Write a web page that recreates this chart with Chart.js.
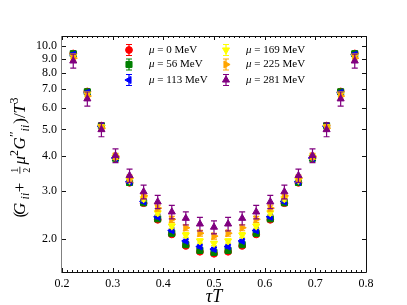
<!DOCTYPE html>
<html>
<head>
<meta charset="utf-8">
<script src="https://cdn.jsdelivr.net/npm/chart.js@4/dist/chart.umd.min.js"></script>
<style>
  html, body { margin: 0; padding: 0; background: #fff; }
  #wrap { position: relative; width: 407px; height: 305px; }
</style>
</head>
<body>
<div id="wrap"><canvas id="chart" width="407" height="305"></canvas></div>
<script>
// tau*T values (N_tau = 36)
const tauT = [0.2222, 0.25, 0.2778, 0.3056, 0.3333, 0.3611, 0.3889, 0.4167, 0.4444, 0.4722, 0.5,
  0.5278, 0.5556, 0.5833, 0.6111, 0.6389, 0.6667, 0.6944, 0.7222, 0.75, 0.7778];

const muValues = [0, 56, 113, 169, 225, 281];

const g0 = [9.42, 6.86, 5.16, 3.93, 3.20, 2.70, 2.35, 2.08, 1.89, 1.80, 1.77,
  1.80, 1.89, 2.08, 2.35, 2.70, 3.20, 3.93, 5.16, 6.86, 9.42];
const g56 = [9.40, 6.84, 5.15, 3.93, 3.21, 2.71, 2.37, 2.10, 1.91, 1.82, 1.79,
  1.82, 1.91, 2.10, 2.37, 2.71, 3.21, 3.93, 5.15, 6.84, 9.40];
const g113 = [9.33, 6.79, 5.13, 3.94, 3.23, 2.74, 2.41, 2.15, 1.97, 1.88, 1.84,
  1.88, 1.97, 2.15, 2.41, 2.74, 3.23, 3.94, 5.13, 6.79, 9.33];
const g169 = [9.21, 6.71, 5.10, 3.96, 3.27, 2.80, 2.49, 2.23, 2.07, 1.97, 1.93,
  1.97, 2.07, 2.23, 2.49, 2.80, 3.27, 3.96, 5.10, 6.71, 9.21];
const g225 = [9.06, 6.60, 5.05, 3.99, 3.33, 2.87, 2.59, 2.36, 2.20, 2.10, 2.05,
  2.10, 2.20, 2.36, 2.59, 2.87, 3.33, 3.99, 5.05, 6.60, 9.06];
const g281 = [8.85, 6.45, 4.99, 4.02, 3.40, 2.97, 2.73, 2.51, 2.38, 2.27, 2.21,
  2.27, 2.38, 2.51, 2.73, 2.97, 3.40, 4.02, 4.99, 6.45, 8.85];

// half-widths of the error bars
const e0 = [0.08, 0.055, 0.04, 0.032, 0.026, 0.022, 0.019, 0.017, 0.015, 0.014, 0.014,
  0.014, 0.015, 0.017, 0.019, 0.022, 0.026, 0.032, 0.04, 0.055, 0.08];
const e56 = [0.10, 0.07, 0.05, 0.04, 0.033, 0.028, 0.025, 0.022, 0.02, 0.019, 0.018,
  0.019, 0.02, 0.022, 0.025, 0.028, 0.033, 0.04, 0.05, 0.07, 0.10];
const e113 = [0.13, 0.095, 0.07, 0.055, 0.045, 0.04, 0.035, 0.03, 0.028, 0.026, 0.026,
  0.026, 0.028, 0.03, 0.035, 0.04, 0.045, 0.055, 0.07, 0.095, 0.13];
const e169 = [0.17, 0.12, 0.09, 0.07, 0.06, 0.05, 0.045, 0.04, 0.04, 0.035, 0.035,
  0.035, 0.04, 0.04, 0.045, 0.05, 0.06, 0.07, 0.09, 0.12, 0.17];
const e225 = [0.22, 0.16, 0.12, 0.10, 0.08, 0.07, 0.065, 0.06, 0.055, 0.05, 0.05,
  0.05, 0.055, 0.06, 0.065, 0.07, 0.08, 0.10, 0.12, 0.16, 0.22];
const e281 = [0.52, 0.38, 0.29, 0.23, 0.19, 0.17, 0.15, 0.14, 0.13, 0.13, 0.12,
  0.13, 0.13, 0.14, 0.15, 0.17, 0.19, 0.23, 0.29, 0.38, 0.52];

const xTicks = [0.2, 0.3, 0.4, 0.5, 0.6, 0.7, 0.8];
const yTicks = [2, 3, 4, 5, 6, 7, 8, 9, 10];

const SERIF = '"Liberation Serif", "DejaVu Serif", serif';

const SERIES = [
  { vals: g0, err: e0, color: '#ff0000', style: 'circle', rot: 0, r: 3.4 },
  { vals: g56, err: e56, color: '#008000', style: 'rect', rot: 0, r: 4.3 },
  { vals: g113, err: e113, color: '#0000ff', style: 'triangle', rot: -90, r: 4.1 },
  { vals: g169, err: e169, color: '#ffff00', style: 'triangle', rot: 180, r: 4.1 },
  { vals: g225, err: e225, color: '#ffa500', style: 'triangle', rot: 90, r: 4.1 },
  { vals: g281, err: e281, color: '#800080', style: 'triangle', rot: 0, r: 4.1 },
];

function drawMarker(ctx, s, x, y) {
  ctx.fillStyle = s.color;
  ctx.strokeStyle = s.color;
  ctx.lineWidth = 1;
  Chart.helpers.drawPoint(ctx, { pointStyle: s.style, rotation: s.rot, radius: s.r, borderWidth: 1 }, x, y);
}

function errBar(ctx, x, lo, hi) {
  ctx.beginPath();
  ctx.moveTo(x, lo); ctx.lineTo(x, hi);
  ctx.moveTo(x - 3, lo); ctx.lineTo(x + 3, lo);
  ctx.moveTo(x - 3, hi); ctx.lineTo(x + 3, hi);
  ctx.stroke();
}

// error bars drawn just before each series' markers
const errorBars = {
  id: 'errorBars',
  beforeDatasetDraw(chart, args) {
    const s = SERIES[args.index];
    const { ctx, scales: { x, y } } = chart;
    ctx.save();
    ctx.strokeStyle = s.color;
    ctx.lineWidth = 1.2;
    tauT.forEach((t, k) => {
      errBar(ctx, x.getPixelForValue(t),
        y.getPixelForValue(s.vals[k] - s.err[k]),
        y.getPixelForValue(s.vals[k] + s.err[k]));
    });
    ctx.restore();
  },
};

// y title: (G_ii + 1/2 mu^2 G''_ii)/T^3, drawn piece by piece
function drawYTitle(ctx, cx, cy) {
  const size = 17;
  const parts = [
    ['(', 'n', 0], ['G', 'i', 0.5], ['ii', 'sub', 2], ['+', 'n', 3], ['', 'frac', 1], ['μ', 'i', 0], ['2', 'sup', 0.5],
    ['G', 'i', 0.5], ['′′', 'sup', 0], ['ii', 'sub', 1], [')/', 'n', 0], ['T', 'i', 0.5], ['3', 'sup', 0],
  ];
  const fontFor = (kind) => {
    if (kind === 'i') return `italic ${size}px ${SERIF}`;
    if (kind === 'sub') return `italic ${Math.round(size * 0.7)}px ${SERIF}`;
    if (kind === 'sup') return `${Math.round(size * 0.7)}px ${SERIF}`;
    return `${size}px ${SERIF}`;
  };
  const widths = parts.map(([t, kind, gap]) => {
    if (kind === 'frac') return size * 0.55 + gap;
    ctx.font = fontFor(kind);
    return ctx.measureText(t).width + gap;
  });
  const total = widths.reduce((a, b) => a + b, 0);
  ctx.save();
  ctx.translate(cx, cy);
  ctx.rotate(-Math.PI / 2);
  ctx.fillStyle = '#000';
  ctx.textBaseline = 'alphabetic';
  let px = -total / 2;
  const base = size * 0.3;
  parts.forEach(([t, kind], i) => {
    if (kind === 'frac') {
      ctx.font = `${Math.round(size * 0.6)}px ${SERIF}`;
      ctx.textAlign = 'center';
      const mid = px + (widths[i] - 1) / 2;
      ctx.fillText('1', mid, base - size * 0.42);
      ctx.fillText('2', mid, base + size * 0.28);
      ctx.fillRect(mid - 3.5, base - size * 0.33, 7, 0.8);
      ctx.textAlign = 'left';
    } else {
      ctx.font = fontFor(kind);
      let dy = 0;
      if (kind === 'sub') dy = size * 0.22;
      if (kind === 'sup') dy = -size * 0.4;
      ctx.fillText(t, px, base + dy);
    }
    px += widths[i];
  });
  ctx.restore();
}

const decorations = {
  id: 'decorations',
  afterDraw(chart) {
    const { ctx, chartArea: a, scales: { x, y } } = chart;
    ctx.save();
    // frame
    ctx.lineWidth = 1;
    ctx.strokeStyle = '#111';
    ctx.beginPath();
    ctx.moveTo(a.left, a.top + 0.5); ctx.lineTo(a.right + 0.5, a.top + 0.5);
    ctx.lineTo(a.right + 0.5, a.bottom + 0.5); ctx.lineTo(a.left, a.bottom + 0.5);
    ctx.stroke();
    ctx.strokeStyle = '#808080';
    ctx.beginPath();
    ctx.moveTo(a.left - 0.5, a.top); ctx.lineTo(a.left - 0.5, a.bottom + 1);
    ctx.stroke();

    // ticks pointing in
    ctx.strokeStyle = '#111';
    ctx.beginPath();
    for (let i = 20; i <= 80; i++) {
      const px = Math.round(x.getPixelForValue(i / 100)) + 0.5;
      const len = i % 10 === 0 ? 4 : 2;
      ctx.moveTo(px, a.bottom); ctx.lineTo(px, a.bottom - len);
      ctx.moveTo(px, a.top); ctx.lineTo(px, a.top + len);
    }
    yTicks.forEach((v) => {
      const py = Math.round(y.getPixelForValue(v)) + 0.5;
      ctx.moveTo(a.left, py); ctx.lineTo(a.left + 4, py);
      ctx.moveTo(a.right, py); ctx.lineTo(a.right - 4, py);
    });
    ctx.stroke();

    // legend, two columns
    const colX = [129, 226];
    const rowY = [50, 64.5, 80];
    SERIES.forEach((s, i) => {
      const mx = colX[Math.floor(i / 3)];
      const my = rowY[i % 3];
      ctx.strokeStyle = s.color;
      ctx.lineWidth = 1.2;
      errBar(ctx, mx, my + 5.5, my - 5.5);
      drawMarker(ctx, s, mx, my);
      ctx.fillStyle = '#000';
      ctx.textBaseline = 'middle';
      ctx.textAlign = 'left';
      ctx.font = `italic 11px ${SERIF}`;
      ctx.fillText('μ', mx + 20, my);
      const w = ctx.measureText('μ').width;
      ctx.font = `11px ${SERIF}`;
      ctx.fillText(` = ${muValues[i]} MeV`, mx + 20 + w, my);
    });

    // axis titles
    ctx.fillStyle = '#000';
    ctx.font = `italic 18px ${SERIF}`;
    ctx.textAlign = 'center';
    ctx.textBaseline = 'alphabetic';
    ctx.fillText('τT', (a.left + a.right) / 2, 302);
    drawYTitle(ctx, 20, (a.top + a.bottom) / 2 + 2);
    ctx.restore();
  },
};

new Chart(document.getElementById('chart'), {
  type: 'scatter',
  data: {
    datasets: SERIES.map((s, i) => ({
      label: `μ = ${muValues[i]} MeV`,
      data: tauT.map((t, k) => ({ x: t, y: s.vals[k] })),
      backgroundColor: s.color,
      borderColor: s.color,
      borderWidth: 1,
      pointStyle: s.style,
      pointRotation: s.rot,
      pointRadius: s.r,
      showLine: false,
      order: SERIES.length - 1 - i,
    })),
  },
  options: {
    responsive: false,
    animation: false,
    layout: { padding: { left: 0, right: 41, top: 36, bottom: 0 } },
    plugins: { legend: { display: false }, tooltip: { enabled: false } },
    scales: {
      x: {
        type: 'linear',
        min: 0.2,
        max: 0.8,
        afterBuildTicks: (s) => { s.ticks = xTicks.map((v) => ({ value: v })); },
        afterFit: (s) => { s.height = 33; },
        grid: { display: false, drawTicks: false },
        border: { display: false },
        ticks: {
          padding: 5,
          color: '#000',
          maxRotation: 0,
          autoSkip: false,
          font: { family: SERIF, size: 12 },
          callback: (v) => Number(v).toFixed(1),
        },
      },
      y: {
        type: 'logarithmic',
        min: 1.52,
        max: 10.9,
        afterBuildTicks: (s) => { s.ticks = yTicks.map((v) => ({ value: v })); },
        afterFit: (s) => { s.width = 62; },
        grid: { display: false, drawTicks: false },
        border: { display: false },
        ticks: {
          padding: 5,
          color: '#000',
          autoSkip: false,
          font: { family: SERIF, size: 12 },
          callback: (v) => Number(v).toFixed(1),
        },
      },
    },
  },
  plugins: [errorBars, decorations],
});
</script>
</body>
</html>
